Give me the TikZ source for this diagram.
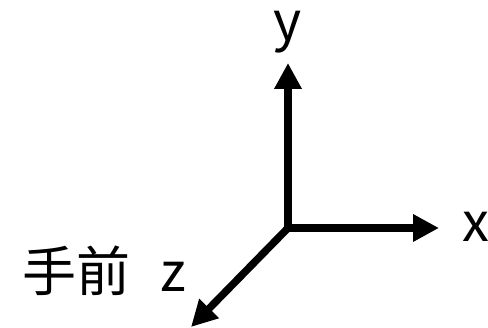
\documentclass[tikz,border=0pt]{standalone}
\usepackage{fontspec}
\setmainfont{Noto Sans CJK JP}
\usetikzlibrary{arrows.meta}
\begin{document}
\begin{tikzpicture}[x=1pt,y=-1pt,
  axis/.style={line width=7.5pt,-{Triangle[length=26pt,width=26pt]}},
  lbl/.style={inner sep=0pt,font=\fontsize{54}{60}\selectfont}]
\useasboundingbox (0,0) rectangle (488,328);
\coordinate (o) at (288,228);
\coordinate (ytip) at (288,63);
\coordinate (xtip) at (439,228);
\coordinate (ztip) at (191,327);
\draw[axis] ([yshift=-3.75pt]o) -- (ytip);
\draw[axis] ([xshift=-3.75pt]o) -- (xtip);
\draw[axis] (o) -- (ztip);
\node[lbl,anchor=base,text height=0.56em,text depth=0.22em] (y) at (288,41) {y};
\node[lbl,anchor=base west] (x) at (462,242) {x};
\node[lbl,anchor=base west] (z) at (22,292) {手前\hspace{30pt}z};
\end{tikzpicture}
\end{document}
